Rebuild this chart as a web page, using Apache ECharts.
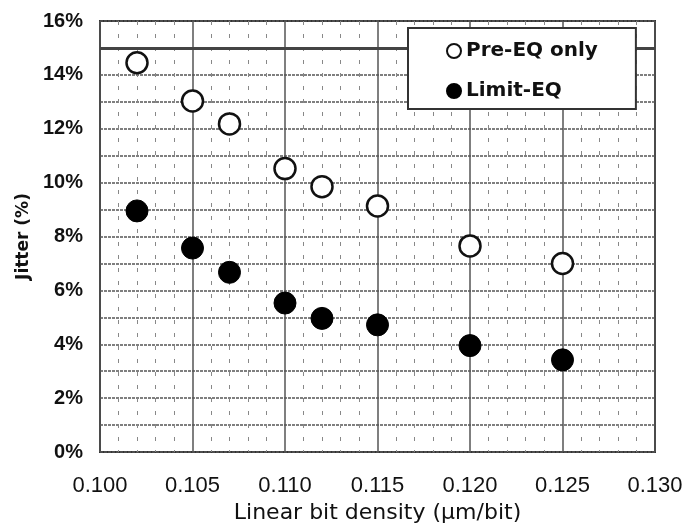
<!DOCTYPE html>
<html>
<head>
<meta charset="utf-8">
<script src="https://cdn.jsdelivr.net/npm/echarts@6/dist/echarts.min.js"></script>
<style>
  html, body { margin: 0; padding: 0; background: #fff; }
  #chart { width: 683px; height: 523px; }
</style>
</head>
<body>
<div id="chart"></div>
<script>
// bit density (um/bit)
const density = [0.102, 0.105, 0.107, 0.110, 0.112, 0.115, 0.120, 0.125];
// jitter (%)
const preEqOnly = [14.45, 13.03, 12.18, 10.52, 9.85, 9.13, 7.65, 7.0];
const limitEq = [8.95, 7.57, 6.67, 5.53, 4.96, 4.72, 3.95, 3.42];

const xTicks = [0.100, 0.105, 0.110, 0.115, 0.120, 0.125, 0.130];
const yTicks = [0, 2, 4, 6, 8, 10, 12, 14, 16];

const sans = 'Liberation Sans, Arial, sans-serif';
const wide = 'DejaVu Sans, sans-serif';
const gridColor = '#555';

const chart = echarts.init(document.getElementById('chart'));

const option = {
  animation: false,
  backgroundColor: '#fff',
  grid: {
    left: 100, right: 28, top: 21, bottom: 71,
    containLabel: false,
    outerBoundsMode: 'none',
    show: true,
    borderColor: '#333',
    borderWidth: 2
  },
  legend: {
    z: 20,
    orient: 'vertical',
    left: 408,
    top: 28,
    padding: [13, 38, 8, 38],
    itemGap: 20,
    itemWidth: 14,
    itemHeight: 14,
    backgroundColor: '#fff',
    borderColor: '#333',
    borderWidth: 2,
    textStyle: { fontFamily: wide, fontSize: 20, fontWeight: 'bold', color: '#111' },
    data: ['Pre-EQ only', 'Limit-EQ']
  },
  xAxis: {
    type: 'value',
    min: 0.1,
    max: 0.13,
    interval: 0.005,
    name: 'Linear bit density (\u03bcm/bit)',
    nameLocation: 'middle',
    nameGap: 50,
    nameTextStyle: { fontFamily: wide, fontSize: 22, color: '#111' },
    axisLine: { show: false },
    axisTick: { show: false },
    axisLabel: {
      fontFamily: sans, fontSize: 22, color: '#111', margin: 23,
      formatter: v => xTicks.some(t => Math.abs(t - v) < 1e-9) ? v.toFixed(3) : ''
    },
    splitLine: { show: true, lineStyle: { color: gridColor, width: 1.5 } },
    minorTick: { show: false, splitNumber: 5 },
    minorSplitLine: { show: true, lineStyle: { color: '#888', width: 1, type: [4, 9] } }
  },
  yAxis: {
    type: 'value',
    min: 0,
    max: 16,
    interval: 1,
    name: 'Jitter (%)',
    nameLocation: 'middle',
    nameGap: 67,
    nameTextStyle: { fontFamily: wide, fontSize: 17, fontWeight: 'bold', color: '#111' },
    axisLine: { show: false },
    axisTick: { show: false },
    axisLabel: {
      fontFamily: sans, fontSize: 20, fontWeight: 'bold', color: '#111', margin: 17,
      formatter: v => yTicks.indexOf(v) >= 0 ? v + '%' : ''
    },
    splitLine: { show: true, lineStyle: { color: gridColor, width: 1.5, type: [3, 1] } }
  },
  series: [
    {
      name: 'Pre-EQ only',
      type: 'scatter',
      symbol: 'circle',
      symbolSize: 21,
      itemStyle: { color: '#fff', borderColor: '#111', borderWidth: 2.5, opacity: 1 },
      data: density.map((d, i) => [d, preEqOnly[i]]),
      markLine: {
        silent: true,
        symbol: 'none',
        label: { show: false },
        lineStyle: { color: '#444', width: 3, type: 'solid' },
        data: [{ yAxis: 15 }]
      },
      z: 3
    },
    {
      name: 'Limit-EQ',
      type: 'scatter',
      symbol: 'circle',
      symbolSize: 22,
      itemStyle: { color: '#000', borderColor: '#000', borderWidth: 1, opacity: 1 },
      data: density.map((d, i) => [d, limitEq[i]]),
      z: 3
    }
  ]
};

chart.setOption(option);
</script>
</body>
</html>
